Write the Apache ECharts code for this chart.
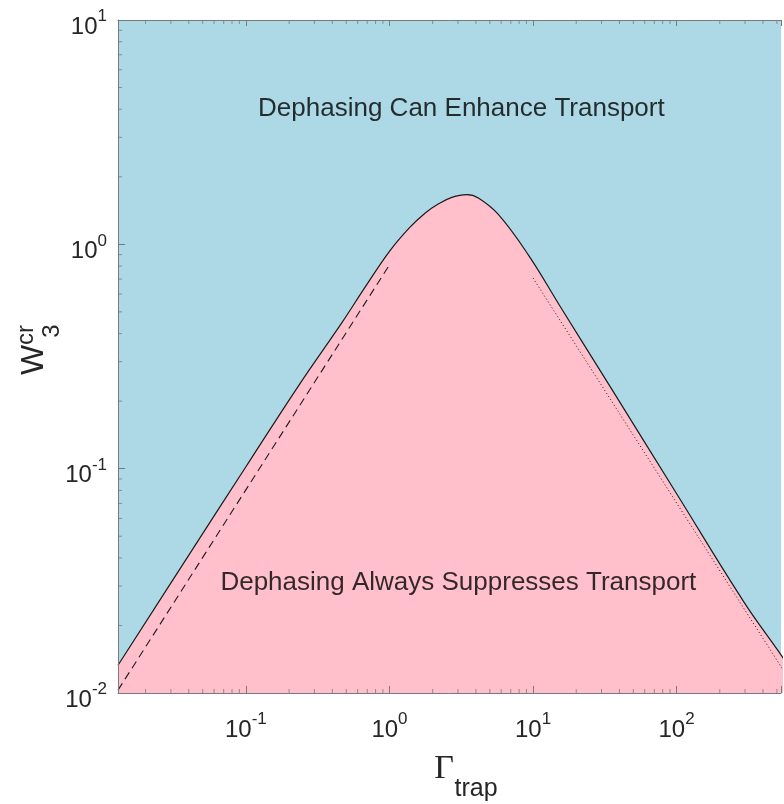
<!DOCTYPE html>
<html>
<head>
<meta charset="utf-8">
<script src="https://cdn.jsdelivr.net/npm/echarts@6/dist/echarts.min.js"></script>
<style>
html,body{margin:0;padding:0;background:#fff;}
#chart{width:784px;height:804px;}
</style>
</head>
<body>
<div id="chart"></div>
<script>
// ---- data ----
const X_MIN = 0.01285;
const X_MAX = 534;      // value at the right edge of the visible frame
const Y_MIN = 0.01;
const Y_MAX = 10;

// critical boundary W3cr(Gamma_trap)
const gammaTrap = [0.01285, 0.0437, 0.1, 0.235, 0.469, 0.682, 1.0, 1.38, 1.777, 2.2, 2.72, 3.45, 4.16, 5.73, 9.25, 15.7, 35.0, 101.4, 294, 534, 600];
const w3cr      = [0.0133, 0.0449, 0.102, 0.2365, 0.45, 0.649, 0.931, 1.187, 1.38, 1.516, 1.62, 1.667, 1.61, 1.36, 0.90, 0.52, 0.2285, 0.0763, 0.0255, 0.0148, 0.0132];

// small-Gamma asymptote (dashed)
const dashedGamma = [0.01285, 1.0];
const dashedW     = [0.0103, 0.81];

// large-Gamma asymptote (dotted)
const dottedGamma = [10, 560];
const dottedW     = [0.708, 0.0125];

// tick values
const xMinorTicks = [0.02,0.03,0.04,0.05,0.06,0.07,0.08,0.09,
                     0.2,0.3,0.4,0.5,0.6,0.7,0.8,0.9,
                     2,3,4,5,6,7,8,9,
                     20,30,40,50,60,70,80,90,
                     200,300,400,500];
const yMinorTicks = [0.02,0.03,0.04,0.05,0.06,0.07,0.08,0.09,
                     0.2,0.3,0.4,0.5,0.6,0.7,0.8,0.9,
                     2,3,4,5,6,7,8,9];

// region annotations
const annotationText  = ['Dephasing Can Enhance Transport', 'Dephasing Always Suppresses Transport'];
const annotationGamma = [3.17, 3.02];
const annotationW     = [4.0, 0.0309];

// ---- chart ----
const FONT = "'Liberation Sans', Arial, Helvetica, sans-serif";
const AXIS_COLOR = '#7a7a7a';
const TEXT_COLOR = '#262626';

function zip(a, b) { return a.map((v, i) => [v, b[i]]); }
function powLabel(v) {
  const e = Math.log10(v);
  const r = Math.round(e);
  if (Math.abs(e - r) > 1e-6) return '';
  return '{b|10}{s|' + r + '}';
}
const labelRich = {
  b: { fontSize: 24, fontFamily: FONT, color: TEXT_COLOR, lineHeight: 31, verticalAlign: 'bottom' },
  s: { fontSize: 17, fontFamily: FONT, color: TEXT_COLOR, lineHeight: 31, verticalAlign: 'top' }
};

const chart = echarts.init(document.getElementById('chart'), null, { renderer: 'canvas' });

const option = {
  animation: false,
  grid: {
    left: 118, top: 20, bottom: 111, right: 0,
    show: true, backgroundColor: '#ADD8E6', borderWidth: 0
  },
  xAxis: [
    {
      type: 'log', logBase: 10, min: X_MIN, max: X_MAX, position: 'bottom', z: 10,
      axisLine: { show: true, lineStyle: { color: AXIS_COLOR, width: 1 } },
      axisTick: { show: true, inside: true, length: 7, lineStyle: { color: AXIS_COLOR } },
      axisLabel: { show: true, margin: 18, formatter: powLabel, rich: labelRich },
      splitLine: { show: false }, minorTick: { show: false }
    },
    {
      type: 'log', logBase: 10, min: X_MIN, max: X_MAX, position: 'top', z: 10,
      axisLine: { show: true, lineStyle: { color: AXIS_COLOR, width: 1 } },
      axisTick: { show: true, inside: true, length: 6, lineStyle: { color: AXIS_COLOR } },
      axisLabel: { show: false },
      splitLine: { show: false }
    }
  ],
  yAxis: [
    {
      type: 'log', logBase: 10, min: Y_MIN, max: Y_MAX, z: 10,
      axisLine: { show: true, lineStyle: { color: AXIS_COLOR, width: 1 } },
      axisTick: { show: true, inside: true, length: 7, lineStyle: { color: AXIS_COLOR } },
      axisLabel: { show: true, margin: 11, formatter: powLabel, rich: labelRich, padding: [7, 0, 0, 0] },
      splitLine: { show: false }
    }
  ],
  series: [
    {
      name: 'boundary', type: 'line', xAxisIndex: 0, yAxisIndex: 0,
      data: zip(gammaTrap, w3cr), showSymbol: false, symbol: 'none', smooth: 0.4,
      lineStyle: { color: '#1a1a1a', width: 1.2 },
      areaStyle: { color: '#FFC0CB', opacity: 1, origin: 'start' },
      z: 2
    },
    {
      name: 'small', type: 'line', data: zip(dashedGamma, dashedW), symbol: 'none',
      lineStyle: { color: '#1a1a1a', width: 1.1, type: [8, 5] }, z: 3
    },
    {
      name: 'large', type: 'line', data: zip(dottedGamma, dottedW), symbol: 'none',
      lineStyle: { color: '#1a1a1a', width: 1, type: [1, 2.5] }, z: 3
    },
    {
      name: 'xminorBottom', type: 'scatter', clip: false, silent: true, z: 11,
      data: xMinorTicks.map(v => [v, Y_MIN]),
      symbol: 'rect', symbolSize: [1, 4], symbolOffset: [0, -2],
      itemStyle: { color: AXIS_COLOR }
    },
    {
      name: 'xminorTop', type: 'scatter', clip: false, silent: true, z: 11,
      data: xMinorTicks.map(v => [v, Y_MAX]),
      symbol: 'rect', symbolSize: [1, 4], symbolOffset: [0, 2],
      itemStyle: { color: AXIS_COLOR }
    },
    {
      name: 'yminorLeft', type: 'scatter', clip: false, silent: true, z: 11,
      data: yMinorTicks.map(v => [X_MIN, v]),
      symbol: 'rect', symbolSize: [4, 1], symbolOffset: [2, 0],
      itemStyle: { color: AXIS_COLOR }
    },
    {
      name: 'annotations', type: 'scatter', silent: true, z: 12,
      symbolSize: 0,
      data: annotationText.map((t, i) => ({ name: t, value: [annotationGamma[i], annotationW[i]] })),
      label: {
        show: true, position: 'inside', formatter: '{b}',
        fontSize: 26, fontFamily: FONT, color: '#000000'
      }
    }
  ],
  graphic: [
    { type: 'text', x: 32, y: 350, rotation: Math.PI / 2, z: 100,
      style: {
        text: '{w|W}{s|cr}', align: 'center', verticalAlign: 'middle',
        rich: {
          w: { fontSize: 32, fontFamily: FONT, fill: TEXT_COLOR, color: TEXT_COLOR, lineHeight: 36, verticalAlign: 'bottom' },
          s: { fontSize: 24, fontFamily: FONT, fill: TEXT_COLOR, color: TEXT_COLOR, lineHeight: 36, verticalAlign: 'top' }
        }
      } },
    { type: 'text', x: 52, y: 331, rotation: Math.PI / 2, z: 100,
      style: { text: '3', font: "24px " + FONT, fill: TEXT_COLOR, align: 'center', verticalAlign: 'middle' } },
    { type: 'text', x: 444, y: 769, z: 100,
      style: { text: 'Γ', font: "34px 'Liberation Serif', 'Times New Roman', serif", fill: TEXT_COLOR, align: 'center', verticalAlign: 'middle' } },
    { type: 'text', x: 476, y: 789, z: 100,
      style: { text: 'trap', font: "25px " + FONT, fill: TEXT_COLOR, align: 'center', verticalAlign: 'middle' } }
  ]
};
chart.setOption(option);
</script>
</body>
</html>
